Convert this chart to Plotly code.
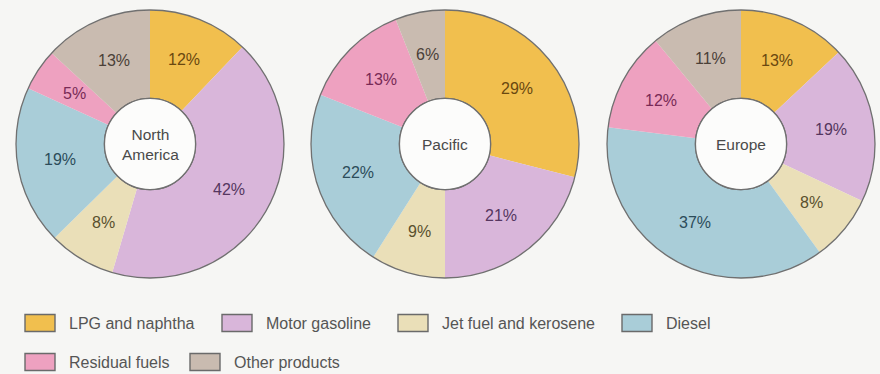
import math
import plotly.graph_objects as go

W, H = 880, 374

# Product categories (clockwise from 12 o'clock)
products = ["LPG and naphtha", "Motor gasoline", "Jet fuel and kerosene",
            "Diesel", "Residual fuels", "Other products"]
colors = ["#f1bf4e", "#d9b6da", "#eadfb8", "#a9cdd8", "#eea1c0", "#c9bbb0"]
label_colors = ["#6a4810", "#553660", "#59502e", "#2c4c5a", "#782a56", "#4a4038"]

regions = ["North<br>America", "Pacific", "Europe"]
north_america = [12, 42, 8, 19, 5, 13]
pacific = [29, 21, 9, 22, 13, 6]
europe = [13, 19, 8, 37, 12, 11]
shares = [north_america, pacific, europe]

# donut layout in pixels
centers_px = [(150, 144), (445, 144), (741, 144)]
R = 134
HOLE = 0.34
LABEL_R = 91
FONT = "Liberation Sans, Arial, Helvetica, sans-serif"


def domain(cx, cy, r):
    return dict(x=[(cx - r) / W, (cx + r) / W],
                y=[(H - cy - r) / H, (H - cy + r) / H])


fig = go.Figure()
for name, vals, (cx, cy) in zip(regions, shares, centers_px):
    fig.add_trace(go.Pie(
        labels=products, values=vals, sort=False, direction="clockwise",
        rotation=0, hole=HOLE, domain=domain(cx, cy, R),
        marker=dict(colors=colors, line=dict(width=0)),
        textinfo="none", showlegend=False, hoverinfo="label+value",
    ))
    # outer ring outline
    fig.add_trace(go.Pie(
        labels=[""], values=[1], hole=HOLE, domain=domain(cx, cy, R),
        marker=dict(colors=["rgba(0,0,0,0)"], line=dict(color="#707070", width=1.3)),
        textinfo="none", hoverinfo="skip", showlegend=False,
    ))
    # white centre disc
    fig.add_trace(go.Pie(
        labels=[""], values=[1], domain=domain(cx, cy, R * HOLE),
        marker=dict(colors=["#fcfcfb"], line=dict(color="#707070", width=1.3)),
        textinfo="none", hoverinfo="skip", showlegend=False,
    ))
    fig.add_annotation(x=cx / W, y=1 - cy / H, xref="paper", yref="paper",
                       text=name, showarrow=False, xanchor="center", yanchor="middle",
                       font=dict(family=FONT, size=15.5, color="#4a4a4a"))

    # percentage labels on the bisector of each slice, mid-ring
    total = sum(vals)
    acc = 0
    for v, tc in zip(vals, label_colors):
        ang = 2 * math.pi * (acc + v / 2) / total
        acc += v
        px = cx + LABEL_R * math.sin(ang)
        py = cy - LABEL_R * math.cos(ang)
        fig.add_annotation(x=px / W, y=1 - py / H, xref="paper", yref="paper",
                           text=f"{v}%", showarrow=False,
                           xanchor="center", yanchor="middle",
                           font=dict(family=FONT, size=16, color=tc))

# legend: swatch left edge and row centre in pixels
legend_pos = [(25, 323), (222, 323), (398, 323), (622, 323), (25, 362), (190, 362)]
shapes = []
for label, col, (lx, ly) in zip(products, colors, legend_pos):
    shapes.append(dict(type="rect", xref="paper", yref="paper",
                       x0=lx / W, x1=(lx + 30) / W,
                       y0=1 - (ly + 8.5) / H, y1=1 - (ly - 8.5) / H,
                       fillcolor=col, line=dict(color="#6a6a6a", width=1.4)))
    fig.add_annotation(x=(lx + 42) / W, y=1 - ly / H, xref="paper", yref="paper",
                       text=label, showarrow=False, xanchor="left", yanchor="middle",
                       font=dict(family=FONT, size=16, color="#555555"))

fig.update_layout(
    width=W, height=H, margin=dict(l=0, r=0, t=0, b=0),
    paper_bgcolor="#f6f6f4", plot_bgcolor="#f6f6f4",
    shapes=shapes, showlegend=False,
)

fig.write_html("out.html")
